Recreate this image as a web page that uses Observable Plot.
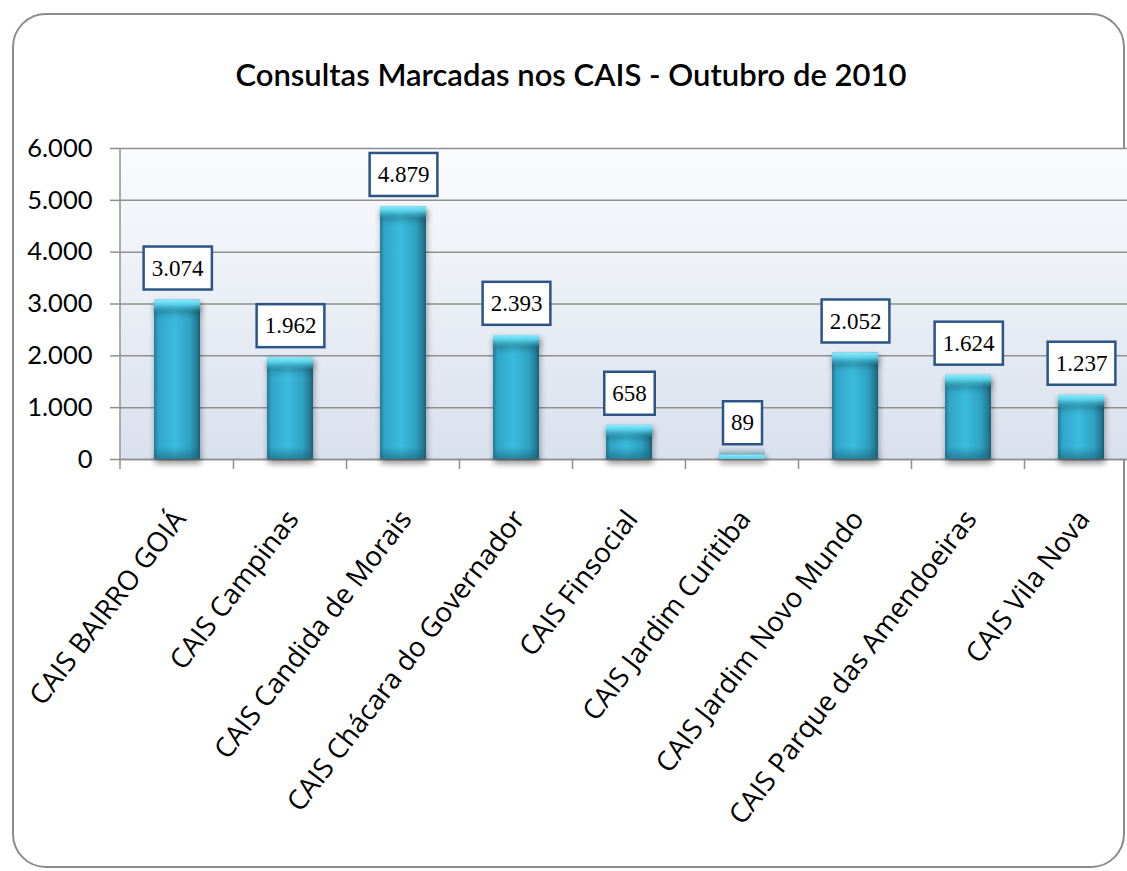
<!DOCTYPE html>
<html>
<head>
<meta charset="utf-8">
<script src="https://cdn.jsdelivr.net/npm/d3@7"></script>
<script src="https://cdn.jsdelivr.net/npm/@observablehq/plot@0.6"></script>
<style>
  html, body { margin: 0; padding: 0; background: #ffffff; }
  #wrap { position: relative; width: 1127px; height: 871px; overflow: hidden; background: #ffffff; }
  #frame { position: absolute; left: 12px; top: 13px; width: 1113px; height: 855px; box-sizing: border-box;
           border: 2.5px solid #8c8c8c; border-radius: 34px; }
  #title { position: absolute; left: 0; top: 56px; width: 1142px; text-align: center;
           font-family: Lato, "Open Sans", sans-serif; font-size: 31px; font-weight: 600; color: #000; line-height: 36px; }
  #chart { position: absolute; left: 0; top: 0; width: 1140px; height: 871px; }
  #chart svg { max-width: none !important; width: 1140px; height: 871px; }
</style>
</head>
<body>
<div id="wrap">
  <div id="frame"></div>
  <div id="chart"></div>
  <div id="title"></div>
</div>
<script>
const title = "Consultas Marcadas nos CAIS - Outubro de 2010";
const categories = [
  "CAIS BAIRRO GOIÁ",
  "CAIS Campinas",
  "CAIS Candida de Morais",
  "CAIS Chácara do Governador",
  "CAIS Finsocial",
  "CAIS Jardim Curitiba",
  "CAIS Jardim Novo Mundo",
  "CAIS Parque das Amendoeiras",
  "CAIS Vila Nova"
];
const values = [3074, 1962, 4879, 2393, 658, 89, 2052, 1624, 1237];
const yTicks = [0, 1000, 2000, 3000, 4000, 5000, 6000];

document.getElementById("title").textContent = title;

const data = categories.map((name, i) => ({name, value: values[i]}));
const fmt = d3.formatLocale({decimal: ",", thousands: ".", grouping: [3], currency: ["R$ ", ""]}).format(",d");
const gray = "#8f8f8f";

// axis lines + category separators drawn from the x band scale
function axisLines(index, scales, values, dims) {
  const x = scales.x;
  const step = x.step(), bw = x.bandwidth();
  const top = dims.marginTop, bottom = dims.height - dims.marginBottom;
  const g = d3.create("svg:g").attr("stroke", gray).attr("stroke-width", 1.5);
  g.append("line").attr("x1", dims.marginLeft).attr("x2", dims.marginLeft).attr("y1", top).attr("y2", bottom + 10);
  categories.forEach((c) => {
    const sx = x(c) + bw + (step - bw) / 2;
    g.append("line").attr("x1", sx).attr("x2", sx).attr("y1", bottom).attr("y2", bottom + 10);
  });
  return g.node();
}

const chart = Plot.plot({
  width: 1140,
  height: 871,
  marginLeft: 120,
  marginRight: 2,
  marginTop: 148,
  marginBottom: 412,
  style: {fontFamily: "Lato, 'Open Sans', sans-serif", background: "transparent", overflow: "visible"},
  x: {type: "band", domain: categories, paddingInner: 0.59, paddingOuter: 0.295, axis: null},
  y: {domain: [0, 6000], axis: null},
  marks: [
    Plot.frame({fill: "url(#bgGrad)", stroke: null}),
    Plot.gridY(yTicks, {stroke: gray, strokeOpacity: 1, strokeWidth: 1.5}),
    Plot.ruleY([0], {stroke: gray, strokeWidth: 1.5}),
    axisLines,
    Plot.axisY(yTicks, {tickSize: 10, tickPadding: 18, tickFormat: fmt, fontSize: 25.5, stroke: gray, fill: "#000", strokeWidth: 1.5, label: null}),
    Plot.barY(data, {x: "name", y: "value", fill: "url(#barGrad)"}),
    Plot.barY(data, {x: "name", y1: 0, y2: 0, insetTop: -12, fill: "url(#botGrad)"}),
    Plot.barY(data, {x: "name", y1: "value", y2: "value", insetBottom: -13, fill: "url(#topGrad)", clip: "frame"}),
    Plot.text(data, {x: "name", y: "value", text: d => fmt(d.value), dy: -32, fontSize: 23,
      fontFamily: "'Liberation Serif', 'Times New Roman', serif", fill: "#000"}),
    Plot.text(categories, {x: d => d, frameAnchor: "bottom", dx: -6, dy: 48, rotate: -52.5,
      textAnchor: "end", lineAnchor: "top", fontSize: 27.5, fontFamily: "'Open Sans', Lato, sans-serif", fill: "#000"})
  ]
});

document.getElementById("chart").appendChild(chart);

const svg = d3.select(chart);
const defs = svg.insert("defs", ":first-child");
function grad(id, vertical, stops) {
  const g = defs.append("linearGradient").attr("id", id)
    .attr("x1", 0).attr("y1", 0).attr("x2", vertical ? 0 : 1).attr("y2", vertical ? 1 : 0);
  stops.forEach(([o, c, a]) => g.append("stop").attr("offset", o).attr("stop-color", c).attr("stop-opacity", a == null ? 1 : a));
}
grad("bgGrad", true, [["0%", "#fafbfd"], ["100%", "#d9e1ed"]]);
grad("barGrad", false, [["0%", "#237c97"], ["10%", "#30a6c8"], ["45%", "#3bbcdc"], ["78%", "#2ea2c2"], ["92%", "#257f9a"], ["100%", "#1b5f74"]]);
grad("topGrad", true, [["0%", "#8aebfb", 1], ["35%", "#62d9f1", 0.9], ["100%", "#3bbcdc", 0]]);
grad("botGrad", true, [["0%", "#1d6a82", 0], ["100%", "#1d6a82", 0.55]]);

svg.selectAll('g[aria-label="bar"]').style("filter", "drop-shadow(1px 4px 3px rgba(0,0,0,0.35))");

// label boxes behind the value texts
const valueGroup = svg.selectAll('g[aria-label="text"]').nodes()[0];
d3.select(valueGroup).selectAll("text").each(function () {
  const b = this.getBBox();
  const t = this.getAttribute("transform");
  const r = d3.select(this.parentNode).insert("rect", () => this)
    .attr("x", b.x - 8).attr("y", b.y + b.height / 2 - 21.5)
    .attr("width", b.width + 16).attr("height", 43)
    .attr("fill", "#ffffff").attr("stroke", "#2b5587").attr("stroke-width", 2.5);
  if (t) r.attr("transform", t);
});
</script>
</body>
</html>
